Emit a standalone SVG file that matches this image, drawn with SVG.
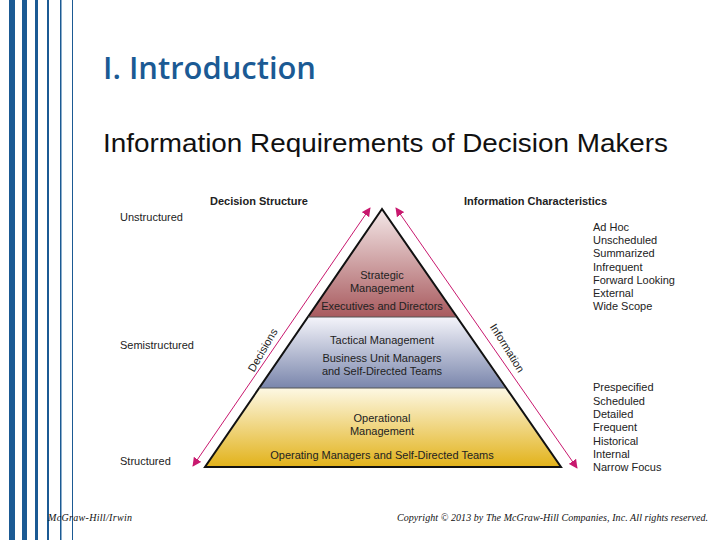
<svg xmlns="http://www.w3.org/2000/svg" width="720" height="540" viewBox="0 0 720 540">
<style>
.s{fill:#1b5a94}
.t{font-family:"Liberation Sans",Arial,sans-serif;font-size:11px;fill:#222}
.c{text-anchor:middle}
.b{font-weight:bold}
.f{font-family:"Liberation Serif",serif;font-style:italic;font-size:10px;fill:#111}
.a{stroke:#c8186e;stroke-width:1;fill:none;marker-start:url(#m);marker-end:url(#m)}
</style>
<defs>
<marker id="m" viewBox="0 0 10 10" refX="9" refY="5" markerWidth="9" markerHeight="9" orient="auto-start-reverse"><path d="M0,0L10,5L0,10z" fill="#c8186e"/></marker>
<linearGradient id="g1" x1="0" y1="0" x2="0" y2="1"><stop offset="0" stop-color="#f4e8e8"/><stop offset="1" stop-color="#a85a5e"/></linearGradient>
<linearGradient id="g2" x1="0" y1="0" x2="0" y2="1"><stop offset="0" stop-color="#f4f4fa"/><stop offset="1" stop-color="#7a86ac"/></linearGradient>
<linearGradient id="g3" x1="0" y1="0" x2="0" y2="1"><stop offset="0" stop-color="#fdf8e4"/><stop offset="1" stop-color="#e2b21a"/></linearGradient>
</defs>
<rect width="720" height="540" fill="#fff"/>
<g id="stripes">
<rect class="s" x="9" y="0" width="6" height="540"/>
<rect class="s" x="22" y="0" width="5" height="540"/>
<rect class="s" x="35" y="0" width="3" height="540"/>
<rect class="s" x="47" y="0" width="2" height="540"/>
<rect class="s" x="60" y="0" width="1.5" height="540"/>
<rect class="s" x="72" y="0" width="1" height="540"/>
</g>
<text x="103" y="79" font-family="'Open Sans','Liberation Sans',sans-serif" font-size="30" fill="#1b5a94" font-weight="600" textLength="213" lengthAdjust="spacingAndGlyphs">I. Introduction</text>
<text x="103" y="152" font-family="'Liberation Sans',Arial,sans-serif" font-size="25" fill="#111" textLength="565" lengthAdjust="spacingAndGlyphs">Information Requirements of Decision Makers</text>
<g id="pyramid">
<polygon id="strategic" points="382,209 308,317 456,317" fill="url(#g1)"/>
<polygon id="tactical" points="308,317 456,317 505,388 259,388" fill="url(#g2)"/>
<polygon id="operational" points="259,388 505,388 561,467 205,467" fill="url(#g3)"/>
<polygon points="382,209 205,467 561,467" fill="none" stroke="#111" stroke-width="2"/>
<line x1="308" y1="317" x2="456" y2="317" stroke="#555" stroke-width="1"/>
<line x1="259" y1="388" x2="505" y2="388" stroke="#555" stroke-width="1"/>
</g>
<g class="t c">
<text x="382" y="279">Strategic</text>
<text x="382" y="292">Management</text>
<text x="382" y="310">Executives and Directors</text>
<text x="382" y="344">Tactical Management</text>
<text x="382" y="362">Business Unit Managers</text>
<text x="382" y="375">and Self-Directed Teams</text>
<text x="382" y="422">Operational</text>
<text x="382" y="435">Management</text>
<text x="382" y="459">Operating Managers and Self-Directed Teams</text>
</g>
<g id="connectors">
<line class="a" x1="193" y1="466" x2="370" y2="208"/>
<line class="a" x1="396" y1="208" x2="577" y2="468"/>
</g>
<text class="t" transform="translate(266,352) rotate(-60)" text-anchor="middle">Decisions</text>
<text class="t" transform="translate(504,350) rotate(58)" text-anchor="middle">Information</text>
<g class="t">
<text class="b" x="210" y="205">Decision Structure</text>
<text class="b" x="464" y="205">Information Characteristics</text>
<text x="120" y="221">Unstructured</text>
<text x="120" y="349">Semistructured</text>
<text x="120" y="465">Structured</text>
<text x="593" y="231">Ad Hoc</text>
<text x="593" y="244">Unscheduled</text>
<text x="593" y="257">Summarized</text>
<text x="593" y="271">Infrequent</text>
<text x="593" y="284">Forward Looking</text>
<text x="593" y="297">External</text>
<text x="593" y="310">Wide Scope</text>
<text x="593" y="391">Prespecified</text>
<text x="593" y="405">Scheduled</text>
<text x="593" y="418">Detailed</text>
<text x="593" y="431">Frequent</text>
<text x="593" y="445">Historical</text>
<text x="593" y="458">Internal</text>
<text x="593" y="471">Narrow Focus</text>
</g>
<text class="f" x="48" y="521" textLength="84">McGraw-Hill/Irwin</text>
<text class="f" x="397" y="521" textLength="311">Copyright © 2013 by The McGraw-Hill Companies, Inc. All rights reserved.</text>
</svg>
